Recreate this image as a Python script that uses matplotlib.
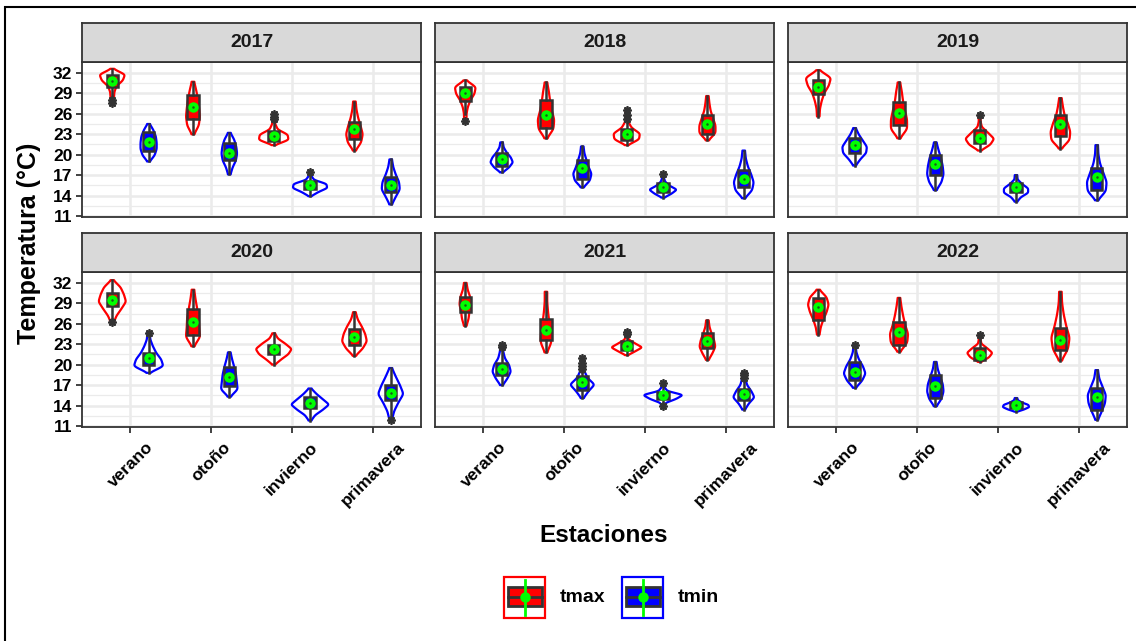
import matplotlib
matplotlib.use('Agg')
import matplotlib.pyplot as plt
from matplotlib.patches import Rectangle
import numpy as np

plt.rcParams['font.family'] = ['Liberation Sans', 'DejaVu Sans']

years = [2017, 2018, 2019, 2020, 2021, 2022]
seasons = ['verano', 'otoño', 'invierno', 'primavera']

# ---- tmax (rows = years, cols = seasons) ----
tmax_lo = [[27.5, 23.0, 21.4, 20.6], [25.0, 22.4, 21.4, 22.1], [25.6, 22.4, 20.6, 20.9],
           [26.1, 22.7, 20.0, 21.3], [25.7, 21.8, 21.4, 20.7], [24.4, 21.9, 20.4, 20.6]]
tmax_hi = [[32.6, 30.7, 26.0, 27.8], [30.9, 30.6, 26.5, 28.6], [32.4, 30.6, 25.8, 28.3],
           [32.4, 31.0, 24.6, 27.7], [32.0, 30.7, 24.8, 26.5], [31.0, 29.8, 24.4, 30.7]]
tmax_q1 = [[29.9, 25.3, 22.0, 22.3], [27.9, 23.9, 22.1, 23.1], [28.9, 24.3, 21.7, 22.8],
           [28.6, 24.4, 21.6, 22.9], [27.7, 23.6, 22.1, 22.4], [26.6, 22.9, 20.7, 22.2]]
tmax_q3 = [[31.7, 28.7, 23.4, 24.8], [29.9, 28.0, 23.7, 25.8], [30.9, 27.7, 23.6, 25.8],
           [30.5, 28.1, 22.9, 25.2], [30.0, 26.7, 23.4, 24.6], [29.8, 26.3, 22.5, 25.4]]
tmax_mean = [[30.8, 27.0, 22.7, 23.7], [29.0, 25.8, 23.0, 24.5], [29.9, 26.1, 22.5, 24.5],
             [29.5, 26.3, 22.3, 24.1], [28.8, 25.1, 22.8, 23.5], [28.4, 24.8, 21.4, 23.6]]
tmax_wlo = [[28.4, 23.0, 21.4, 20.6], [26.0, 22.4, 21.4, 22.1], [25.6, 22.4, 20.6, 20.9],
            [26.6, 22.7, 20.0, 21.3], [25.7, 21.8, 21.4, 20.7], [24.4, 21.9, 20.4, 20.6]]
tmax_whi = [[32.6, 30.7, 24.8, 27.8], [30.9, 30.6, 24.6, 28.6], [32.4, 30.6, 25.0, 28.3],
            [32.4, 31.0, 24.6, 27.7], [32.0, 30.7, 24.1, 26.5], [31.0, 29.8, 23.8, 30.7]]
tmax_out = [[[27.6, 28.0], [], [25.2, 25.6, 26.0], []],
            [[25.0], [], [25.3, 25.8, 26.5], []],
            [[], [], [25.8], []],
            [[26.3], [], [], []],
            [[], [], [24.5, 24.8], []],
            [[], [], [24.4], []]]
# violin full width at 5 evenly spaced levels from lo to hi
tmax_shape = [
    [[0.04, 0.05, 0.10, 0.25, 0.30], [0.14, 0.17, 0.15, 0.12, 0.08],
     [0.36, 0.34, 0.10, 0.04, 0.02], [0.16, 0.20, 0.15, 0.09, 0.05]],
    [[0.03, 0.06, 0.12, 0.22, 0.25], [0.18, 0.20, 0.14, 0.10, 0.07],
     [0.30, 0.32, 0.12, 0.04, 0.02], [0.20, 0.20, 0.14, 0.08, 0.05]],
    [[0.04, 0.08, 0.14, 0.25, 0.30], [0.20, 0.20, 0.15, 0.10, 0.07],
     [0.25, 0.34, 0.20, 0.05, 0.02], [0.22, 0.24, 0.18, 0.10, 0.06]],
    [[0.10, 0.22, 0.33, 0.28, 0.20], [0.17, 0.15, 0.14, 0.10, 0.06],
     [0.18, 0.35, 0.43, 0.28, 0.10], [0.20, 0.30, 0.26, 0.18, 0.08]],
    [[0.08, 0.10, 0.14, 0.12, 0.06], [0.13, 0.12, 0.08, 0.05, 0.03],
     [0.20, 0.36, 0.20, 0.05, 0.02], [0.12, 0.19, 0.16, 0.10, 0.05]],
    [[0.06, 0.12, 0.20, 0.25, 0.20], [0.20, 0.22, 0.15, 0.10, 0.06],
     [0.22, 0.30, 0.18, 0.04, 0.02], [0.18, 0.22, 0.14, 0.08, 0.04]]]

# ---- tmin ----
tmin_lo = [[19.0, 17.1, 13.9, 12.7], [17.4, 15.2, 13.7, 13.6], [18.4, 14.8, 13.1, 13.3],
           [18.8, 15.3, 11.8, 11.9], [17.0, 15.1, 13.8, 13.4], [16.6, 13.9, 13.1, 11.9]]
tmin_hi = [[24.5, 23.2, 17.5, 19.3], [21.8, 21.2, 17.2, 20.6], [23.9, 21.8, 17.0, 21.4],
           [24.7, 21.8, 16.5, 19.5], [22.9, 21.0, 17.3, 18.8], [22.9, 20.4, 15.1, 19.2]]
tmin_q1 = [[20.6, 19.2, 15.0, 14.5], [18.4, 16.5, 14.5, 15.2], [20.3, 17.0, 14.5, 14.8],
           [20.0, 16.8, 13.6, 14.8], [18.5, 16.3, 14.9, 14.8], [17.8, 15.1, 13.6, 13.4]]
tmin_q3 = [[23.3, 21.7, 16.2, 16.7], [20.2, 19.2, 15.8, 17.7], [22.4, 19.9, 15.9, 18.0],
           [21.7, 19.6, 15.2, 17.0], [20.2, 18.3, 16.0, 16.5], [20.4, 18.5, 14.5, 16.6]]
tmin_mean = [[21.85, 20.3, 15.6, 15.6], [19.3, 18.0, 15.2, 16.5], [21.4, 18.6, 15.2, 16.7],
             [21.0, 18.2, 14.4, 15.9], [19.4, 17.4, 15.6, 15.7], [18.9, 16.9, 14.1, 15.3]]
tmin_wlo = [[19.0, 17.1, 13.9, 12.7], [17.4, 15.2, 13.7, 13.6], [18.4, 14.8, 13.1, 13.3],
            [18.8, 15.3, 11.8, 12.4], [17.0, 15.1, 14.2, 13.4], [16.6, 13.9, 13.1, 11.9]]
tmin_whi = [[24.5, 23.2, 17.0, 19.3], [21.8, 21.2, 16.8, 20.6], [23.9, 21.8, 17.0, 21.4],
            [24.0, 21.8, 16.5, 19.5], [22.0, 19.0, 16.8, 17.8], [22.3, 20.4, 15.1, 19.2]]
tmin_out = [[[], [], [17.5], []],
            [[], [], [17.2], []],
            [[], [], [], []],
            [[24.7], [], [], [11.9]],
            [[22.6, 22.9], [19.3, 19.8, 20.3, 21.0], [17.3, 13.9], [18.1, 18.5, 18.8]],
            [[22.9], [], [], []]]
tmin_shape = [
    [[0.15, 0.20, 0.20, 0.18, 0.12], [0.08, 0.16, 0.19, 0.17, 0.12],
     [0.20, 0.42, 0.40, 0.10, 0.03], [0.12, 0.22, 0.20, 0.12, 0.06]],
    [[0.18, 0.27, 0.22, 0.12, 0.05], [0.18, 0.22, 0.15, 0.10, 0.05],
     [0.20, 0.32, 0.15, 0.05, 0.02], [0.20, 0.24, 0.18, 0.10, 0.05]],
    [[0.14, 0.28, 0.30, 0.20, 0.10], [0.15, 0.20, 0.18, 0.14, 0.08],
     [0.12, 0.30, 0.30, 0.15, 0.04], [0.22, 0.24, 0.16, 0.08, 0.04]],
    [[0.35, 0.30, 0.18, 0.10, 0.04], [0.20, 0.18, 0.16, 0.12, 0.07],
     [0.12, 0.30, 0.45, 0.30, 0.15], [0.08, 0.18, 0.30, 0.22, 0.12]],
    [[0.14, 0.22, 0.18, 0.08, 0.04], [0.14, 0.28, 0.12, 0.05, 0.03],
     [0.06, 0.30, 0.46, 0.10, 0.03], [0.12, 0.25, 0.18, 0.08, 0.04]],
    [[0.18, 0.26, 0.20, 0.10, 0.04], [0.15, 0.20, 0.18, 0.12, 0.06],
     [0.20, 0.32, 0.30, 0.15, 0.05], [0.12, 0.20, 0.22, 0.14, 0.06]]]

yticks = [11, 14, 17, 20, 23, 26, 29, 32]

RED, BLUE, GREEN, DARK = '#FF0000', '#0000FF', '#00FF00', '#333333'
W, H = 1136, 641


def violin_stats(lo, hi, shape, mean):
    levels = np.linspace(lo, hi, 7)
    prof = np.r_[0.03, shape, 0.03]
    coords = np.linspace(lo, hi, 150)
    vals = np.interp(coords, levels, prof)
    k = np.hanning(25)
    k /= k.sum()
    vals = np.convolve(np.r_[np.full(12, vals[0]), vals, np.full(12, vals[-1])], k, mode='valid')
    return dict(coords=coords, vals=vals, mean=mean, median=mean, min=lo, max=hi)


def draw_var(ax, yi, offset, color, lo, hi, q1, q3, mean, wlo, whi, out, shape):
    pos = np.arange(1, 5) + offset
    vstats = [violin_stats(lo[yi][s], hi[yi][s], shape[yi][s], mean[yi][s]) for s in range(4)]
    widths = [max(shape[yi][s]) for s in range(4)]
    parts = ax.violin(vstats, positions=pos, widths=widths, showextrema=False)
    for b in parts['bodies']:
        b.set_facecolor('none')
        b.set_edgecolor(color)
        b.set_linewidth(1.6)
        b.set_alpha(1)
        b.set_zorder(3)
    bstats = [dict(med=mean[yi][s], q1=q1[yi][s], q3=q3[yi][s], whislo=wlo[yi][s],
                   whishi=whi[yi][s], fliers=out[yi][s]) for s in range(4)]
    ax.bxp(bstats, positions=pos, widths=0.14, patch_artist=True, showcaps=False,
           manage_ticks=False, zorder=4,
           boxprops=dict(facecolor=color, edgecolor=DARK, linewidth=1.8),
           whiskerprops=dict(color=DARK, linewidth=1.8),
           medianprops=dict(color=DARK, linewidth=1.8),
           flierprops=dict(marker=(8, 2, 0), markersize=6, markeredgecolor=DARK,
                           markeredgewidth=1.3, markerfacecolor=DARK))
    ax.plot(pos, [mean[yi][s] for s in range(4)], 'o', color=GREEN, markersize=7.5,
            markeredgewidth=0, zorder=6)
    ax.plot(pos, [mean[yi][s] for s in range(4)], 'o', color='#1A5A1A', markersize=1.8,
            markeredgewidth=0, zorder=7)


fig = plt.figure(figsize=(W / 100, H / 100), dpi=100)

col_left = [82, 435, 788]
panel_w = 339
row_top = [62, 272]
panel_h = 155
strip_h = 39.5

for i, yr in enumerate(years):
    r, c = divmod(i, 3)
    left = col_left[c] / W
    bottom = (H - row_top[r] - panel_h) / H
    ax = fig.add_axes([left, bottom, panel_w / W, panel_h / H])
    ax.set_xlim(0.4, 4.6)
    ax.set_ylim(10.85, 33.6)
    ax.set_yticks(yticks)
    ax.set_yticks([12.5, 15.5, 18.5, 21.5, 24.5, 27.5, 30.5], minor=True)
    ax.set_xticks(range(1, 5))
    ax.grid(True, which='major', color='#EBEBEB', linewidth=1.8, zorder=0)
    ax.grid(True, which='minor', axis='y', color='#EBEBEB', linewidth=0.9, zorder=0)
    ax.set_axisbelow(True)
    for sp in ax.spines.values():
        sp.set_color(DARK)
        sp.set_linewidth(1.3)
    ax.tick_params(which='minor', length=0)
    ax.tick_params(which='major', color=DARK, width=1.3, length=4)
    if c == 0:
        ax.set_yticklabels([str(t) for t in yticks], fontsize=12.5, fontweight='bold')
        ax.tick_params(axis='y', pad=3)
    else:
        ax.tick_params(axis='y', which='major', length=0, labelleft=False)
    if r == 1:
        ax.set_xticklabels(seasons, rotation=45, fontsize=12.5, fontweight='bold')
        ax.tick_params(axis='x', pad=5)
    else:
        ax.tick_params(axis='x', which='major', length=0, labelbottom=False)

    draw_var(ax, i, -0.225, RED, tmax_lo, tmax_hi, tmax_q1, tmax_q3, tmax_mean,
             tmax_wlo, tmax_whi, tmax_out, tmax_shape)
    draw_var(ax, i, 0.225, BLUE, tmin_lo, tmin_hi, tmin_q1, tmin_q3, tmin_mean,
             tmin_wlo, tmin_whi, tmin_out, tmin_shape)

    # facet strip
    sax = fig.add_axes([left, (H - row_top[r]) / H, panel_w / W, strip_h / H])
    sax.set_facecolor('#D9D9D9')
    sax.set_xticks([])
    sax.set_yticks([])
    for sp in sax.spines.values():
        sp.set_color(DARK)
        sp.set_linewidth(1.3)
    sax.text(0.5, 0.5, str(yr), ha='center', va='center', fontsize=14,
             fontweight='bold', color='#1A1A1A', transform=sax.transAxes)

fig.text(29 / W, 1 - 243 / H, 'Temperatura (°C)', rotation=90, ha='center', va='center',
         fontsize=18, fontweight='bold')
fig.text(604 / W, 1 - 535 / H, 'Estaciones', ha='center', va='center',
         fontsize=17.5, fontweight='bold')

# legend drawn in pixel-like coordinates
lax = fig.add_axes([490 / W, (H - 625) / H, 250 / W, 55 / H])
lax.set_xlim(490, 740)
lax.set_ylim(625, 570)
lax.axis('off')
for x0, col, lab in [(504, RED, 'tmax'), (622, BLUE, 'tmin')]:
    lax.add_patch(Rectangle((x0, 577), 41, 41, facecolor='white', edgecolor=col, linewidth=1.6))
    lax.add_patch(Rectangle((x0 + 3.5, 587), 34, 19, facecolor=col, edgecolor=DARK, linewidth=2))
    lax.plot([x0 + 3.5, x0 + 37.5], [596.5, 596.5], color=DARK, linewidth=2)
    lax.plot([x0 + 20.5, x0 + 20.5], [580, 615], color=GREEN, linewidth=2)
    lax.plot([x0 + 20.5], [596.5], 'o', color=GREEN, markersize=7.5, markeredgewidth=0)
    lax.text(x0 + 56, 598, lab, ha='left', va='center', fontsize=14, fontweight='bold')

# outer frame (left and top edges visible)
fig.add_artist(Rectangle((5 / W, -0.1), 1.2, 1.1 - 7 / H, transform=fig.transFigure,
                         facecolor='none', edgecolor='black', linewidth=1.5))

fig.savefig('out.png', dpi=100)
